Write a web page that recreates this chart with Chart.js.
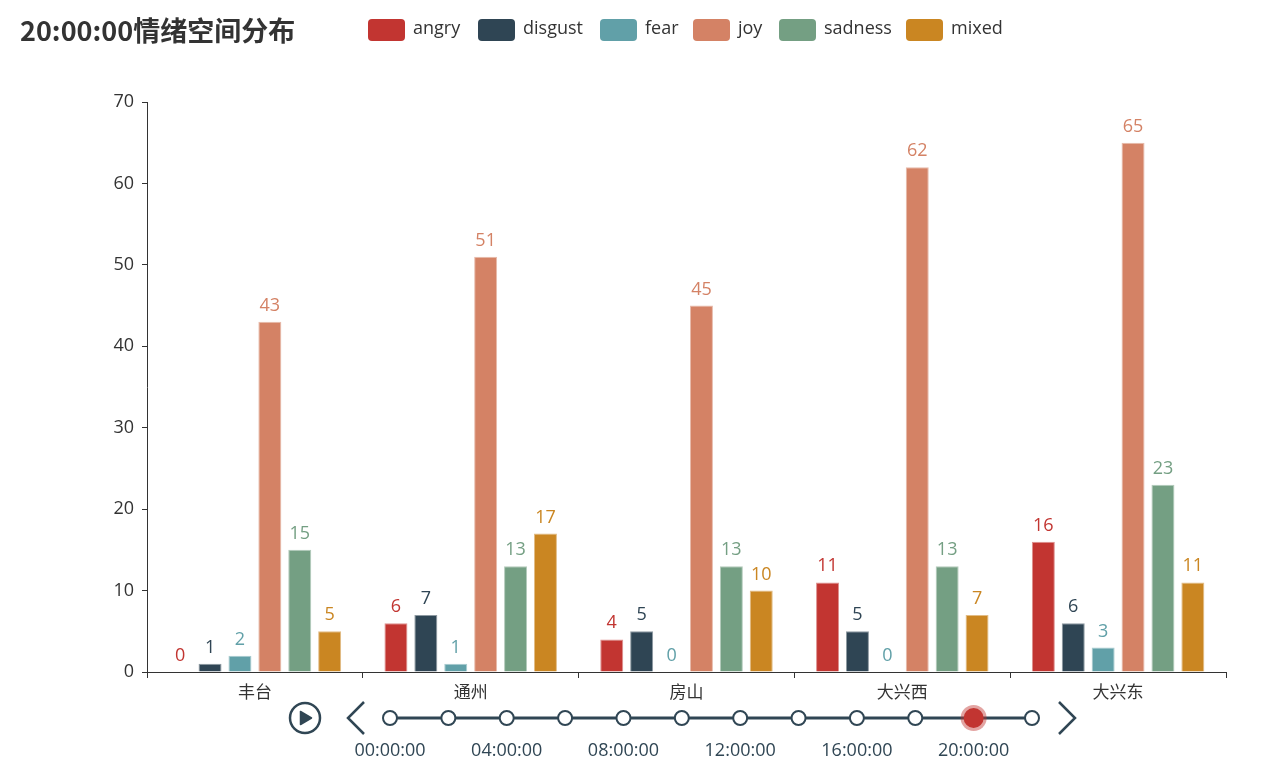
<!DOCTYPE html>
<html>
<head>
<meta charset="utf-8">
<script src="https://cdn.jsdelivr.net/npm/chart.js@4.4.1/dist/chart.umd.min.js"></script>
<style>
html,body{margin:0;padding:0;background:#fff;}
#wrap{position:relative;width:1267px;height:784px;}
</style>
</head>
<body>
<div id="wrap"><canvas id="c" width="1267" height="784"></canvas></div>
<script>
// ---- data ----
const titleText = "20:00:00情绪空间分布";
const categories = ["丰台", "通州", "房山", "大兴西", "大兴东"];
const seriesNames = ["angry", "disgust", "fear", "joy", "sadness", "mixed"];
const angry   = [0, 6, 4, 11, 16];
const disgust = [1, 7, 5, 5, 6];
const fear    = [2, 1, 0, 0, 3];
const joy     = [43, 51, 45, 62, 65];
const sadness = [15, 13, 13, 13, 23];
const mixed   = [5, 17, 10, 7, 11];
const yTicks = [0, 10, 20, 30, 40, 50, 60, 70];
const timelineLabels = ["00:00:00","02:00:00","04:00:00","06:00:00","08:00:00","10:00:00",
                        "12:00:00","14:00:00","16:00:00","18:00:00","20:00:00","22:00:00"];
const currentIndex = 10;

// ---- styles ----
const colors = ["#c23531", "#2f4554", "#61a0a8", "#d48265", "#749f83", "#ca8622"];
const FONT = "'Open Sans','Noto Sans CJK SC',sans-serif";
const CJKFONT = "'Noto Sans CJK SC','Open Sans',sans-serif";

function lighten(hex, t) {
  const n = parseInt(hex.slice(1), 16);
  const r = (n >> 16) & 255, g = (n >> 8) & 255, b = n & 255;
  const f = c => Math.round(c + (255 - c) * t);
  return `rgb(${f(r)},${f(g)},${f(b)})`;
}

const seriesValues = [angry, disgust, fear, joy, sadness, mixed];
const datasets = seriesNames.map((name, i) => ({
  label: name,
  data: seriesValues[i],
  backgroundColor: colors[i],
  borderColor: lighten(colors[i], 0.45),
  borderWidth: 1,
  borderSkipped: 'bottom',
  categoryPercentage: 0.8314,
  barPercentage: 0.769
}));

const decorPlugin = {
  id: 'decor',
  afterDatasetsDraw(chart) {
    const ctx = chart.ctx;
    ctx.save();
    ctx.font = "18px " + FONT;
    ctx.textAlign = 'center';
    ctx.textBaseline = 'alphabetic';
    chart.data.datasets.forEach((ds, di) => {
      const meta = chart.getDatasetMeta(di);
      meta.data.forEach((el, i) => {
        ctx.fillStyle = ds.backgroundColor;
        ctx.fillText(String(ds.data[i]), el.x, el.y - 11);
      });
    });
    ctx.restore();
  },
  afterDraw(chart) {
    const ctx = chart.ctx;
    ctx.save();
    // title
    ctx.fillStyle = '#333';
    ctx.font = "bold 27px " + CJKFONT;
    ctx.textAlign = 'left';
    ctx.textBaseline = 'middle';
    ctx.fillText(titleText, 20, 31);
    // legend
    const boxX = [368, 478, 600, 693, 779, 906];
    chart.data.datasets.forEach((ds, i) => {
      const x = boxX[i];
      ctx.fillStyle = ds.backgroundColor;
      ctx.beginPath();
      ctx.roundRect(x, 19, 37, 22, 4);
      ctx.fill();
      ctx.fillStyle = '#333';
      ctx.font = "18px " + FONT;
      ctx.textBaseline = 'middle';
      ctx.fillText(ds.label, x + 45, 29);
    });
    // timeline
    const tc = '#304654';
    const y = 718, x0 = 390, x1 = 1032;
    ctx.strokeStyle = tc;
    ctx.lineWidth = 3;
    ctx.beginPath(); ctx.moveTo(x0, y); ctx.lineTo(x1, y); ctx.stroke();
    const step = (x1 - x0) / (timelineLabels.length - 1);
    timelineLabels.forEach((lab, i) => {
      const x = x0 + i * step;
      if (i === currentIndex) {
        ctx.fillStyle = 'rgba(194,53,49,0.45)';
        ctx.beginPath(); ctx.arc(x, y, 13, 0, Math.PI * 2); ctx.fill();
        ctx.fillStyle = '#c23531';
        ctx.beginPath(); ctx.arc(x, y, 10, 0, Math.PI * 2); ctx.fill();
      } else {
        ctx.fillStyle = '#fff';
        ctx.strokeStyle = tc;
        ctx.lineWidth = 2;
        ctx.beginPath(); ctx.arc(x, y, 7, 0, Math.PI * 2); ctx.fill(); ctx.stroke();
      }
      if (i % 2 === 0) {
        ctx.fillStyle = tc;
        ctx.font = "18px " + FONT;
        ctx.textAlign = 'center';
        ctx.textBaseline = 'middle';
        ctx.fillText(lab, x, 751);
      }
    });
    // play button
    ctx.strokeStyle = tc;
    ctx.lineWidth = 2.5;
    ctx.beginPath(); ctx.arc(305, 718, 15, 0, Math.PI * 2); ctx.stroke();
    ctx.fillStyle = tc;
    ctx.beginPath();
    ctx.moveTo(300.5, 711.5); ctx.lineTo(300.5, 724.5); ctx.lineTo(311.5, 718); ctx.closePath();
    ctx.lineJoin = 'round';
    ctx.lineWidth = 1.5;
    ctx.fill(); ctx.stroke();
    // chevrons
    ctx.lineWidth = 2.5;
    ctx.lineJoin = 'miter';
    ctx.beginPath(); ctx.moveTo(364, 702); ctx.lineTo(348, 718); ctx.lineTo(364, 734); ctx.stroke();
    ctx.beginPath(); ctx.moveTo(1059, 702); ctx.lineTo(1075, 718); ctx.lineTo(1059, 734); ctx.stroke();
    ctx.restore();
  }
};

new Chart(document.getElementById('c'), {
  type: 'bar',
  data: { labels: categories, datasets },
  options: {
    responsive: false,
    animation: false,
    devicePixelRatio: 1,
    layout: { padding: { top: 102, right: 41, left: 0, bottom: 0 } },
    plugins: {
      legend: { display: false },
      title: { display: false },
      tooltip: { enabled: false }
    },
    scales: {
      x: {
        grid: { offset: true, drawOnChartArea: false, drawTicks: true, tickLength: 6, color: '#333', lineWidth: 1 },
        border: { color: '#333', width: 1 },
        ticks: { color: '#333', font: { size: 17, family: CJKFONT }, padding: 3 },
        afterFit(s) { s.height = 112; }
      },
      y: {
        min: 0, max: 70,
        afterBuildTicks(s) { s.ticks = yTicks.map(v => ({ value: v })); },
        grid: { drawOnChartArea: false, drawTicks: true, tickLength: 5, color: '#333', lineWidth: 1 },
        border: { color: '#333', width: 1 },
        ticks: { color: '#333', font: { size: 18, family: FONT }, padding: 8 },
        afterFit(s) { s.width = 147; }
      }
    }
  },
  plugins: [decorPlugin]
});
</script>
</body>
</html>
